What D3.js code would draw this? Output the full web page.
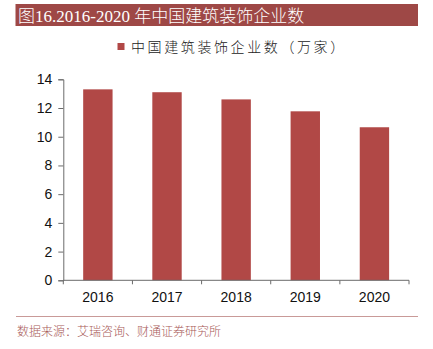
<!DOCTYPE html>
<html><head><meta charset="utf-8">
<script src="https://cdn.jsdelivr.net/npm/d3@7"></script>
<style>body{margin:0;background:#fff;}svg{display:block;}</style>
</head><body>
<script>
const titleText = "图16.2016-2020 年中国建筑装饰企业数";
const legendLabel = "中国建筑装饰企业数（万家）";
const sourceText = "数据来源：艾瑞咨询、财通证券研究所";
const years = ["2016", "2017", "2018", "2019", "2020"];
const values = [13.3, 13.1, 12.6, 11.77, 10.66];
const yTicks = [0, 2, 4, 6, 8, 10, 12, 14];

const W = 433, H = 349;
const svg = d3.select("body").append("svg").attr("width", W).attr("height", H);

// title bar
svg.append("rect").attr("x", 15.5).attr("y", 4).attr("width", 402.5).attr("height", 22).attr("fill", "#9e4846");
svg.append("text").attr("x", 18).attr("y", 21.5).attr("fill", "#fff")
  .style("font-family", "'Liberation Serif','Noto Sans CJK SC',serif").style("font-size", "17px")
  .style("font-weight", "300")
  .text(titleText);

const x = d3.scaleBand().domain(years).range([63.3, 409]).paddingInner(0.575).paddingOuter(0.2875);
const y = d3.scaleLinear().domain([0, 14]).range([280.3, 79.3]);

// bars
svg.selectAll("rect.bar").data(values).join("rect").attr("class", "bar")
  .attr("x", (d, i) => x(years[i])).attr("width", x.bandwidth())
  .attr("y", d => y(d)).attr("height", d => y(0) - y(d))
  .attr("fill", "#b14846");

// y axis
const yAxis = svg.append("g").attr("transform", "translate(63.3,0)")
  .call(d3.axisLeft(y).tickValues(yTicks).tickSize(5).tickPadding(6).tickFormat(d3.format("d")));
yAxis.select(".domain").attr("stroke", "#6b6b6b");
yAxis.selectAll(".tick line").attr("stroke", "#6b6b6b");
yAxis.selectAll("text").attr("fill", "#111").style("font-family", "'Liberation Sans',Arial,sans-serif").style("font-size", "14px");

// x axis
const xAxis = svg.append("g").attr("transform", `translate(0,${y(0)})`)
  .call(d3.axisBottom(x).tickSize(0).tickPadding(12));
xAxis.select(".domain").attr("stroke", "#6b6b6b").attr("d", `M63.3,0H409`);
xAxis.selectAll("text").attr("fill", "#111").style("font-family", "'Liberation Sans',Arial,sans-serif").style("font-size", "14px");
// category boundary ticks
const step = x.step();
const bounds = d3.range(years.length + 1).map(i => x(years[0]) - x.paddingOuter() * step + i * step);
xAxis.selectAll("line.bt").data(bounds).join("line").attr("class", "bt")
  .attr("x1", d => d).attr("x2", d => d).attr("y1", 0).attr("y2", 4).attr("stroke", "#6b6b6b");

// legend
svg.append("rect").attr("x", 117.5).attr("y", 43).attr("width", 7).attr("height", 7).attr("fill", "#b14846");
svg.append("text").attr("x", 131).attr("y", 51.5).attr("fill", "#222")
  .style("font-family", "'Noto Sans CJK SC',sans-serif").style("font-size", "14px").style("letter-spacing", "2.6px")
  .style("font-weight", "300")
  .text(legendLabel);

// bottom rule and source
svg.append("line").attr("x1", 16).attr("x2", 418).attr("y1", 316.5).attr("y2", 316.5).attr("stroke", "#c99a98").attr("stroke-width", 1);
svg.append("text").attr("x", 17).attr("y", 336).attr("fill", "#a85a58")
  .style("font-family", "'Noto Sans CJK SC',sans-serif").style("font-size", "12px")
  .style("font-weight", "300")
  .text(sourceText);
</script>
</body></html>
